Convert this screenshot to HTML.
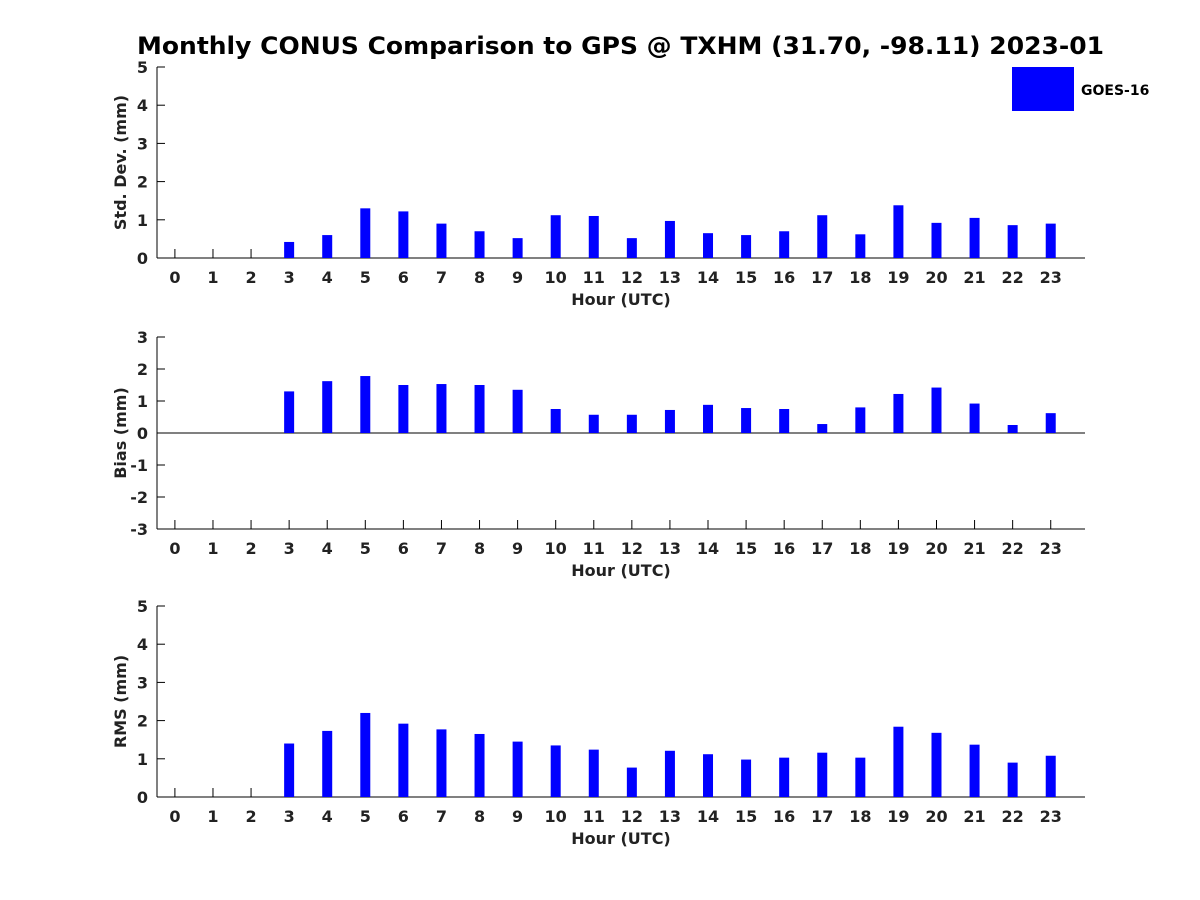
<!DOCTYPE html>
<html><head><meta charset="utf-8"><style>
body{margin:0;background:#fff}
svg{display:block;font-family:"DejaVu Sans","Liberation Sans",sans-serif;font-weight:bold}
</style></head><body>
<svg id="c" width="1200" height="900" viewBox="0 0 1200 900">
<text x="137" y="54" font-size="24" fill="#000" textLength="967" lengthAdjust="spacingAndGlyphs">Monthly CONUS Comparison to GPS @ TXHM (31.70, -98.11) 2023-01</text>
<rect x="1012" y="67" width="62" height="44" fill="#0000ff"/>
<text x="1081" y="95" font-size="14" fill="#000">GOES-16</text>
</svg>
<script>
const hours=[0,1,2,3,4,5,6,7,8,9,10,11,12,13,14,15,16,17,18,19,20,21,22,23];
const stdVals=[null,null,null,0.42,0.6,1.3,1.22,0.9,0.7,0.52,1.12,1.1,0.52,0.97,0.65,0.6,0.7,1.12,0.62,1.38,0.92,1.05,0.86,0.9];
const biasVals=[null,null,null,1.3,1.62,1.78,1.5,1.53,1.5,1.35,0.75,0.57,0.57,0.72,0.88,0.78,0.75,0.28,0.8,1.22,1.42,0.92,0.25,0.62];
const rmsVals=[null,null,null,1.4,1.73,2.2,1.92,1.77,1.65,1.45,1.35,1.24,0.77,1.21,1.12,0.98,1.03,1.16,1.03,1.84,1.68,1.37,0.9,1.08];
const stdTicks=[0,1,2,3,4,5];
const biasTicks=[-3,-2,-1,0,1,2,3];
const rmsTicks=[0,1,2,3,4,5];
const svg=document.getElementById('c');
const NS='http://www.w3.org/2000/svg';
function mk(t,a){const e=document.createElementNS(NS,t);for(const k in a)e.setAttribute(k,a[k]);svg.appendChild(e);return e;}
const xL=157,xR=1085;
function xs(h){return xL+(h+0.47)*(xR-xL)/24.37;}
function panel(name,vals,ticks,top,bot,ymin,ymax,ylabel){
  const ys=v=>bot-(v-ymin)*(bot-top)/(ymax-ymin);
  const y0=ys(Math.max(ymin,0));
  let e=mk('line',{x1:xL,y1:top,x2:xL,y2:bot,stroke:'#000','stroke-width':1});
  
  e=mk('line',{x1:xL,y1:bot,x2:xR,y2:bot,stroke:'#000','stroke-width':1});
  
  if(ymin<0){e=mk('line',{x1:xL,y1:y0,x2:xR,y2:y0,stroke:'#000','stroke-width':1});
  }
  ticks.forEach(t=>{
    const y=ys(t);
    e=mk('line',{x1:xL,y1:y,x2:xL+8,y2:y,stroke:'#000'});
    
    e=mk('text',{x:xL-9,y:y+6,'text-anchor':'end','font-size':16,fill:'#222'});e.textContent=t;
    
  });
  hours.forEach((h,i)=>{
    const x=xs(h);
    e=mk('line',{x1:x,y1:bot,x2:x,y2:bot-9,stroke:'#000'});
    
    e=mk('text',{x:x,y:bot+25,'text-anchor':'middle','font-size':16,fill:'#222'});e.textContent=h;
    
    const v=vals[i];
    if(v!==null){
      const yv=ys(v);
      e=mk('rect',{x:x-5,y:Math.min(yv,y0),width:10,height:Math.abs(y0-yv),fill:'#0000ff'});
      
    }
  });
  e=mk('text',{x:(xL+xR)/2,y:bot+47,'text-anchor':'middle','font-size':16,fill:'#222'});e.textContent='Hour (UTC)';
  
  const cy=(top+bot)/2;
  e=mk('text',{x:0,y:0,'text-anchor':'middle','font-size':16,fill:'#222',transform:'translate(126,'+cy+') rotate(-90)'});e.textContent=ylabel;
  
}
panel('std',stdVals,stdTicks,67,258,0,5,'Std. Dev. (mm)');
panel('bias',biasVals,biasTicks,337,529,-3,3,'Bias (mm)');
panel('rms',rmsVals,rmsTicks,606,797,0,5,'RMS (mm)');
</script>
</body></html>
